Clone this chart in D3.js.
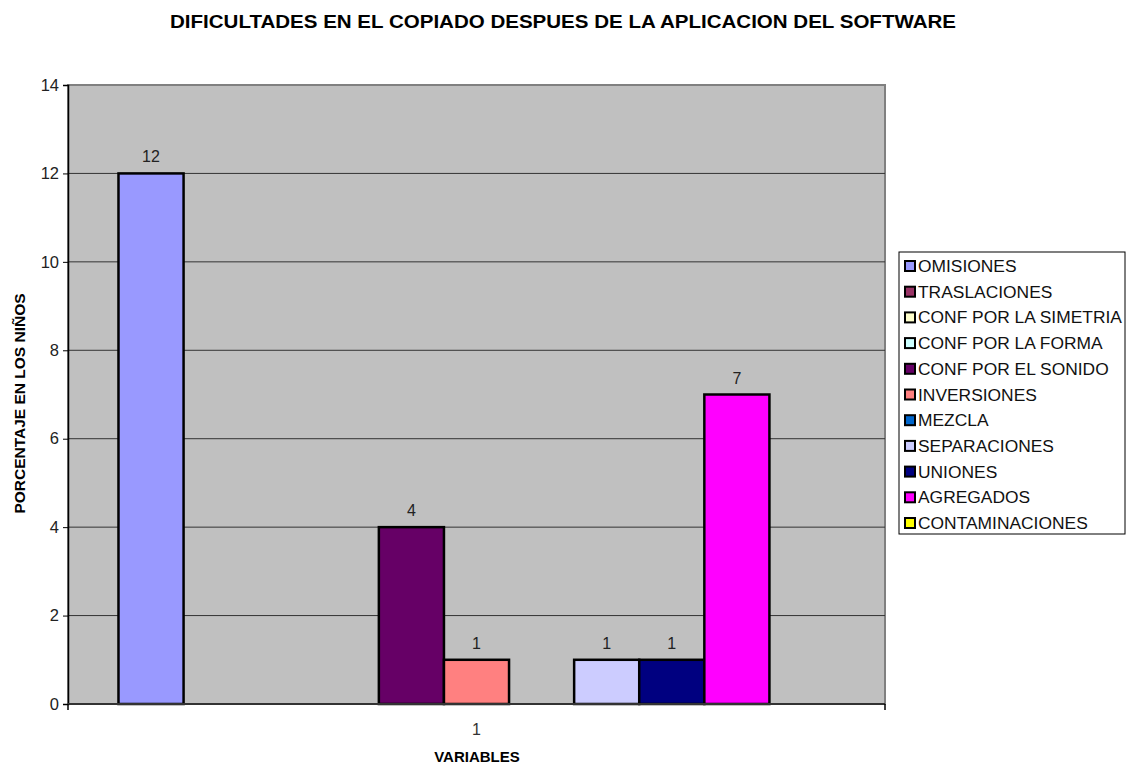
<!DOCTYPE html>
<html>
<head>
<meta charset="utf-8">
<script src="https://cdn.jsdelivr.net/npm/d3@7"></script>
<style>
  body { margin: 0; background: #fff; }
  text { font-family: "Liberation Sans", Arial, sans-serif; }
</style>
</head>
<body>
<script>
let series = ["OMISIONES", "TRASLACIONES", "CONF POR LA SIMETRIA", "CONF POR LA FORMA",
  "CONF POR EL SONIDO", "INVERSIONES", "MEZCLA", "SEPARACIONES", "UNIONES",
  "AGREGADOS", "CONTAMINACIONES"];
let values = [12, 0, 0, 0, 4, 1, 0, 1, 1, 7, 0];
let colors = ["#9999ff", "#993366", "#ffffcc", "#ccffff", "#660066", "#ff8080",
  "#0066cc", "#ccccff", "#000080", "#ff00ff", "#ffff00"];
let categories = ["1"];
let yTicks = [0, 2, 4, 6, 8, 10, 12, 14];

let width = 1126, height = 765;
let margin = {top: 85, right: 241, bottom: 61, left: 68};

let svg = d3.select("body").append("svg")
    .attr("width", width)
    .attr("height", height);

let x0 = d3.scaleBand()
    .domain(categories)
    .range([margin.left, width - margin.right])
    .paddingInner(0)
    .paddingOuter(0.0705);

let x1 = d3.scaleBand()
    .domain(series)
    .range([0, x0.bandwidth()])
    .padding(0);

let y = d3.scaleLinear()
    .domain([0, 14])
    .range([height - margin.bottom, margin.top]);

// plot background
svg.append("rect")
    .attr("x", margin.left)
    .attr("y", margin.top)
    .attr("width", width - margin.right - margin.left)
    .attr("height", height - margin.bottom - margin.top)
    .attr("fill", "#c0c0c0")
    .attr("stroke", "#808080")
    .attr("stroke-width", 2);

// gridlines
svg.append("g")
  .selectAll("line")
  .data(yTicks.filter(d => d > 0 && d < 14))
  .join("line")
    .attr("x1", margin.left)
    .attr("x2", width - margin.right)
    .attr("y1", d => y(d))
    .attr("y2", d => y(d))
    .attr("stroke", "#333")
    .attr("stroke-width", 1);

// bars
let data = series.map((s, i) => ({name: s, value: values[i], color: colors[i]}));

let g = svg.append("g")
    .attr("transform", `translate(${x0("1")},0)`);

g.selectAll("rect")
  .data(data.filter(d => d.value > 0))
  .join("rect")
    .attr("x", d => x1(d.name))
    .attr("y", d => y(d.value))
    .attr("width", x1.bandwidth())
    .attr("height", d => y(0) - y(d.value))
    .attr("fill", d => d.color)
    .attr("stroke", "#000")
    .attr("stroke-width", 2.5);

g.selectAll(".lbl")
  .data(data.filter(d => d.value > 0))
  .join("text")
    .attr("class", "lbl")
    .attr("x", d => x1(d.name) + x1.bandwidth() / 2)
    .attr("y", d => y(d.value) - 11)
    .attr("text-anchor", "middle")
    .attr("font-size", 16)
    .attr("fill", "#222")
    .text(d => d.value);

// axes
let yAxis = svg.append("g")
    .attr("transform", `translate(${margin.left},0)`)
    .call(d3.axisLeft(y).tickValues(yTicks).tickSize(5).tickPadding(4));
yAxis.select(".domain").attr("stroke", "#000").attr("stroke-width", 1.5);
yAxis.selectAll("text").attr("font-size", 16.5).attr("fill", "#222")
    .style("font-family", "Liberation Sans, Arial, sans-serif");

svg.append("line")
    .attr("x1", margin.left).attr("x2", width - margin.right)
    .attr("y1", y(0)).attr("y2", y(0))
    .attr("stroke", "#333").attr("stroke-width", 2);

svg.selectAll(".xtick")
  .data([margin.left, width - margin.right])
  .join("line")
    .attr("class", "xtick")
    .attr("x1", d => d).attr("x2", d => d)
    .attr("y1", y(0)).attr("y2", y(0) + 6)
    .attr("stroke", "#000").attr("stroke-width", 1.5);

svg.append("text")
    .attr("x", x0("1") + x0.bandwidth() / 2)
    .attr("y", y(0) + 31)
    .attr("text-anchor", "middle")
    .attr("font-size", 16)
    .attr("fill", "#333")
    .text(categories[0]);

// titles
svg.append("text")
    .attr("x", 563)
    .attr("y", 28)
    .attr("text-anchor", "middle")
    .attr("font-size", 18)
    .attr("font-weight", "bold")
    .attr("textLength", 786)
    .attr("lengthAdjust", "spacingAndGlyphs")
    .text("DIFICULTADES EN EL COPIADO DESPUES DE LA APLICACION DEL SOFTWARE");

svg.append("text")
    .attr("x", 477)
    .attr("y", 762)
    .attr("text-anchor", "middle")
    .attr("font-size", 15)
    .attr("font-weight", "bold")
    .text("VARIABLES");

svg.append("text")
    .attr("transform", `translate(25,${(margin.top + height - margin.bottom) / 2 + 9}) rotate(-90)`)
    .attr("text-anchor", "middle")
    .attr("font-size", 15.5)
    .attr("font-weight", "bold")
    .text("PORCENTAJE EN LOS NIÑOS");

// legend
let legend = svg.append("g");
legend.append("rect")
    .attr("x", 899).attr("y", 252)
    .attr("width", 226).attr("height", 282)
    .attr("fill", "#fff")
    .attr("stroke", "#000")
    .attr("stroke-width", 1);

let items = legend.selectAll(".item")
  .data(data)
  .join("g")
    .attr("class", "item")
    .attr("transform", (d, i) => `translate(905,${266 + i * 25.7})`);

items.append("rect")
    .attr("x", 0).attr("y", -5)
    .attr("width", 10).attr("height", 10)
    .attr("fill", d => d.color)
    .attr("stroke", "#000")
    .attr("stroke-width", 2);

items.append("text")
    .attr("x", 13)
    .attr("y", 6)
    .attr("font-size", 17.4)
    .attr("fill", "#111")
    .text(d => d.name);
</script>
</body>
</html>
